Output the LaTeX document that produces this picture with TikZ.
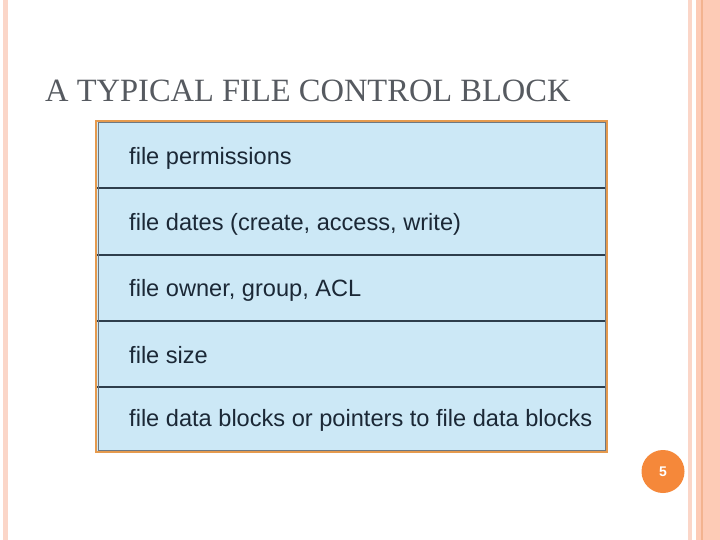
\documentclass[tikz,border=0pt]{standalone}
\usepackage{fontspec}
\setmainfont{Liberation Serif}
\setsansfont{Liberation Sans}
\definecolor{salmon}{HTML}{FDCBB6}
\definecolor{salmonlite}{HTML}{FBD6C8}
\definecolor{salmondark}{HTML}{F3B38F}
\definecolor{cellblue}{HTML}{CCE8F6}
\definecolor{frameorange}{HTML}{E59A4E}
\definecolor{rowline}{HTML}{2E3E4C}
\definecolor{textdark}{HTML}{1B2836}
\definecolor{titlegray}{HTML}{565A60}
\definecolor{badge}{HTML}{F5883A}
\tikzset{
  rowtext/.style={anchor=west, font=\sffamily\fontsize{23.6}{26}\selectfont, text=textdark, inner sep=0pt},
  sepline/.style={draw=rowline, line width=2pt},
}
\begin{document}
\begin{tikzpicture}[x=1pt,y=-1pt]
\useasboundingbox (0,0) rectangle (720,540);
\fill[white] (0,0) rectangle (720,540);
% left stripe
\fill[salmonlite] (3,0) rectangle (7.5,540);
% right decoration
\fill[salmonlite] (688,0) rectangle (692,540);
\fill[salmon] (696,0) rectangle (720,540);
\fill[salmondark] (700.5,0) rectangle (703,540);
% title
\node[anchor=base west, inner sep=0pt, font=\fontsize{32.5}{36}\selectfont, text=titlegray] (title) at (45,102) {A TYPICAL FILE CONTROL BLOCK};
% table
\fill[cellblue] (97,122) rectangle (606,451);
\draw[sepline] (97,188.5) -- (606,188.5);
\draw[sepline] (97,255) -- (606,255);
\draw[sepline] (97,320.5) -- (606,320.5);
\draw[sepline] (97,386.5) -- (606,386.5);
\draw[rowline!70, line width=0.6pt] (97.8,122.8) rectangle (605.2,450.2);
\draw[frameorange, line width=2pt] (96,121) rectangle (607,452);
\node[rowtext] (r1) at (129,158) {file permissions};
\node[rowtext] (r2) at (129,224) {file dates (create, access, write)};
\node[rowtext] (r3) at (129,290) {file owner, group, ACL};
\node[rowtext] (r4) at (129,355.5) {file size};
\node[rowtext] (r5) at (129,420.5) {file data blocks or pointers to file data blocks};
% page number
\node[circle, fill=badge, minimum size=43pt, inner sep=0pt, text=white, font=\sffamily\bfseries\fontsize{14}{16}\selectfont] (pg) at (663,471.5) {5};
\end{tikzpicture}
\end{document}
